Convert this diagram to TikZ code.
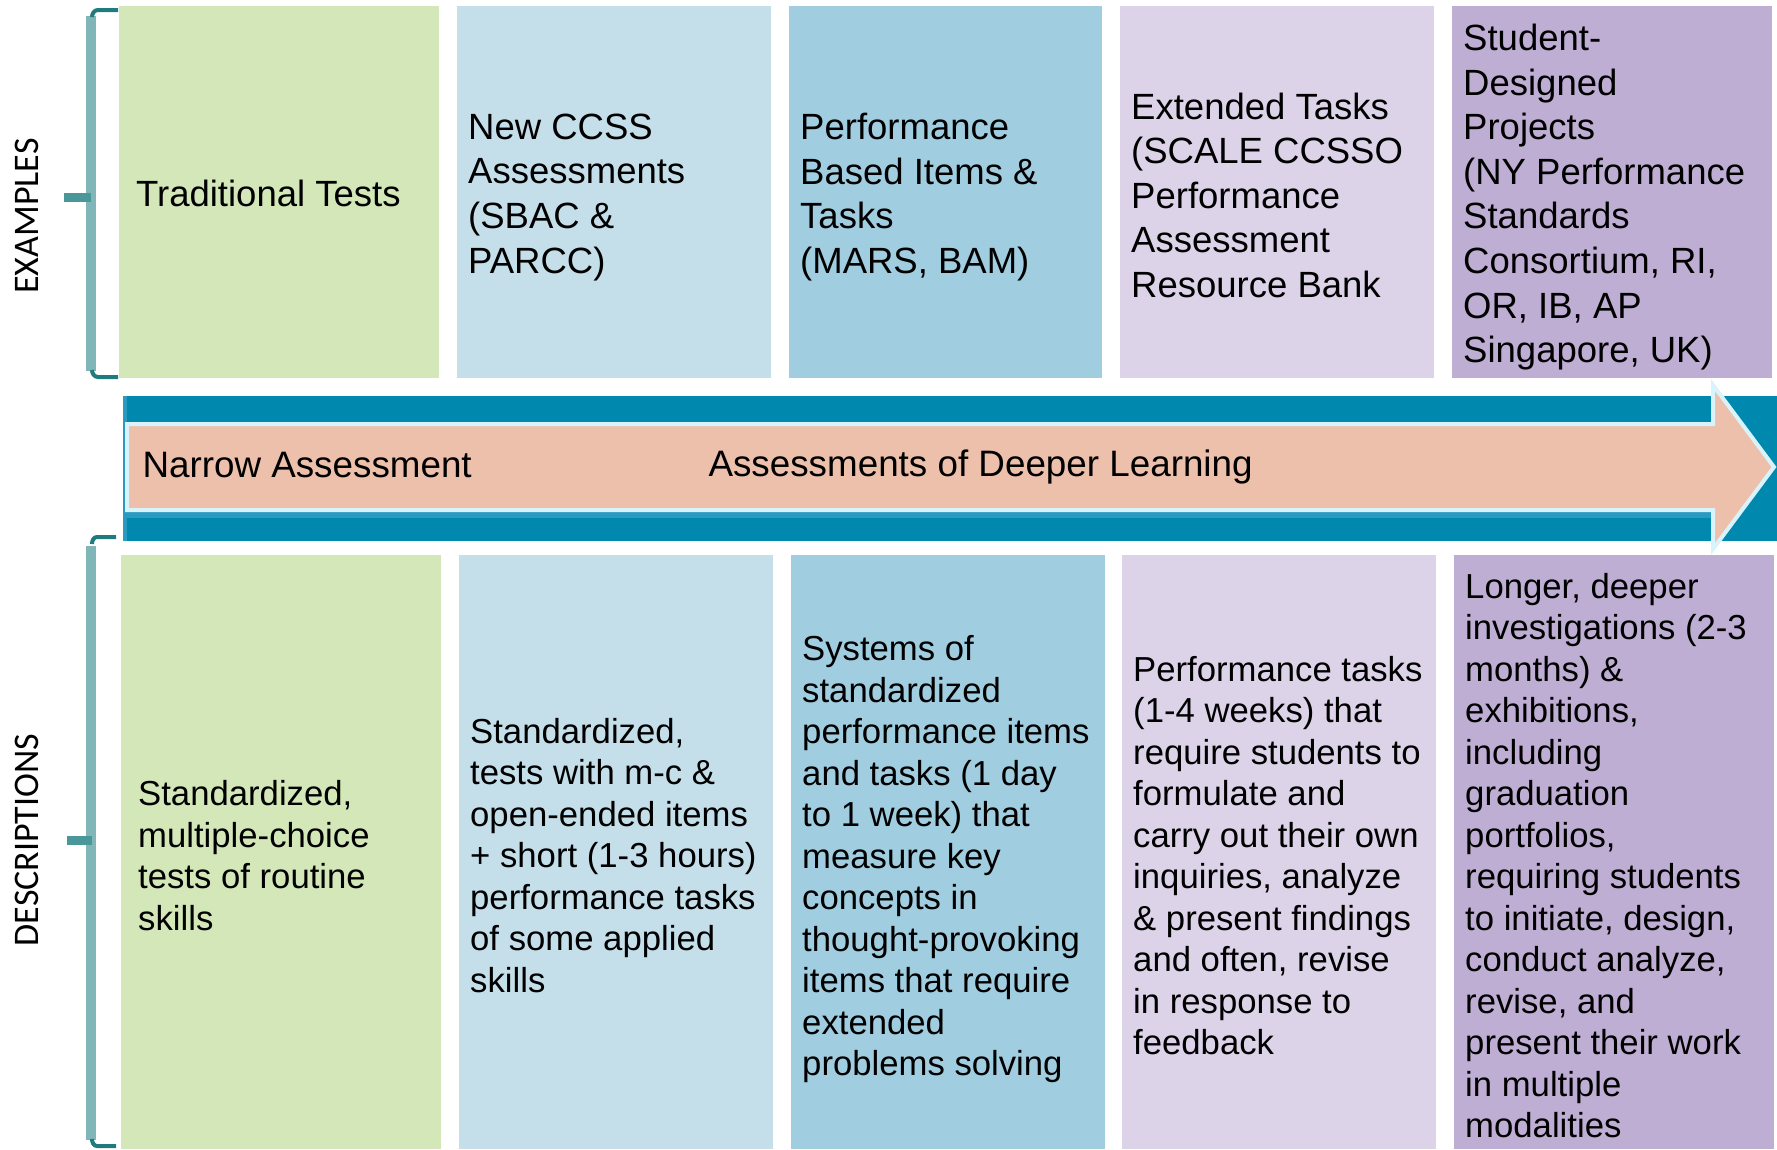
\documentclass[tikz,border=0pt]{standalone}
\usepackage{fontspec}
\setmainfont{Liberation Sans}
\newfontfamily\calib{Carlito}
\definecolor{cgreen}{HTML}{D3E7B8}
\definecolor{clblue}{HTML}{C4DFEA}
\definecolor{cmblue}{HTML}{A0CDE0}
\definecolor{cllav}{HTML}{DCD3E8}
\definecolor{cpurp}{HTML}{BFAED3}
\definecolor{cband}{HTML}{0088AF}
\definecolor{cbandlt}{HTML}{2A9BC0}
\definecolor{csalmon}{HTML}{EDC0AC}
\definecolor{cbrlt}{HTML}{80B6B8}
\definecolor{cbrdk}{HTML}{1F7B7C}
\definecolor{cbrmd}{HTML}{4A9799}
\tikzset{
  box/.style={anchor=north west, inner sep=0pt, minimum width=#1},
  topbox/.style={box=#1, minimum height=372pt},
  botbox/.style={box=#1, minimum height=594pt},
  toptext/.style={anchor=west, inner sep=0pt, align=left,
    font=\fontsize{36.5}{44.6}\selectfont},
  bottext/.style={anchor=west, inner sep=0pt, align=left,
    font=\fontsize{34.7}{41.5}\selectfont},
  sidelabel/.style={rotate=90, font=\calib\fontsize{36}{40}\selectfont},
  arrowlabel/.style={anchor=west, font=\fontsize{36.8}{44}\selectfont},
  brline/.style={draw=cbrlt, line width=10pt},
  brhook/.style={draw=cbrdk, line width=4pt},
  brtick/.style={draw=cbrmd, line width=9pt},
}
\begin{document}
\begin{tikzpicture}[x=1pt,y=-1pt]
\useasboundingbox (0,0) rectangle (1777,1149);
% top boxes
\node[topbox=320pt, fill=cgreen] (t1) at (119,6) {};
\node[topbox=314pt, fill=clblue] (t2) at (457,6) {};
\node[topbox=313pt, fill=cmblue] (t3) at (789,6) {};
\node[topbox=314pt, fill=cllav] (t4) at (1120,6) {};
\node[topbox=320pt, fill=cpurp] (t5) at (1452,6) {};
\node[toptext] (tt1) at ([xshift=17pt,yshift=-1pt]t1.west) {Traditional Tests};
\node[toptext] (tt2) at ([xshift=11pt,yshift=-5pt]t2.west) {New CCSS\\Assessments\\(SBAC \&\\PARCC)};
\node[toptext] (tt3) at ([xshift=11pt,yshift=-5pt]t3.west) {Performance\\Based Items \&\\Tasks\\(MARS, BAM)};
\node[toptext] (tt4) at ([xshift=11pt,yshift=-3pt]t4.west) {Extended Tasks\\(SCALE CCSSO\\Performance\\Assessment\\Resource Bank};
\node[toptext] (tt5) at ([xshift=11pt,yshift=-5pt]t5.west) {Student-\\Designed\\Projects\\(NY Performance\\Standards\\Consortium, RI,\\OR, IB, AP\\Singapore, UK)};
% band and arrow
\fill[cband] (123,396) rectangle (1777,541);
\fill[cbandlt] (123,396) rectangle (127,541);
\fill[cbandlt] (127,510) rectangle (1713,518);
\draw[draw=white!85!cyan, line width=4pt, fill=csalmon, line join=miter]
  (127,424) -- (1713,424) -- (1713,385) -- (1774,467) -- (1713,549) -- (1713,510) -- (127,510) -- cycle;
\node[arrowlabel] (na) at (139,465) {Narrow Assessment};
\node[arrowlabel] (dl) at (705,467) {Assessments of Deeper Learning};
% bottom boxes
\node[botbox=320pt, fill=cgreen] (b1) at (121,555) {};
\node[botbox=314pt, fill=clblue] (b2) at (459,555) {};
\node[botbox=314pt, fill=cmblue] (b3) at (791,555) {};
\node[botbox=314pt, fill=cllav] (b4) at (1122,555) {};
\node[botbox=320pt, fill=cpurp] (b5) at (1454,555) {};
\node[bottext] (bt1) at ([xshift=17pt,yshift=-3.5pt]b1.west) {Standardized,\\multiple-choice\\tests of routine\\skills};
\node[bottext] (bt2) at ([xshift=11pt,yshift=-3pt]b2.west) {Standardized,\\tests with m-c \&\\open-ended items\\+ short (1-3 hours)\\performance tasks\\of some applied\\skills};
\node[bottext] (bt3) at ([xshift=11pt,yshift=-7pt]b3.west) {Systems of\\standardized\\performance items\\and tasks (1 day\\to 1 week) that\\measure key\\concepts in\\thought-provoking\\items that require\\extended\\problems solving};
\node[bottext] (bt4) at ([xshift=11pt,yshift=-3.5pt]b4.west) {Performance tasks\\(1-4 weeks) that\\require students to\\formulate and\\carry out their own\\inquiries, analyze\\\& present findings\\and often, revise\\in response to\\feedback};
\node[bottext] (bt5) at ([xshift=11pt,yshift=-3.5pt]b5.west) {Longer, deeper\\investigations (2-3\\months) \&\\exhibitions,\\including\\graduation\\portfolios,\\requiring students\\to initiate, design,\\conduct analyze,\\revise, and\\present their work\\in multiple\\modalities};
% braces
\draw[brline] (91,16) -- (91,371);
\draw[brhook] (118,10) -- (98,10) to[out=180,in=90] (92,17);
\draw[brhook] (118,377) -- (98,377) to[out=180,in=-90] (92,370);
\draw[brtick] (64,197) -- (91,197);
\draw[brline] (91,546) -- (91,1140);
\draw[brhook] (116,537) -- (97,537) to[out=180,in=90] (92,544);
\draw[brhook] (116,1146) -- (97,1146) to[out=180,in=-90] (92,1139);
\draw[brtick] (67,840) -- (92,840);
\node[sidelabel] (ex) at (27,216) {EXAMPLES};
\node[sidelabel] (de) at (27,840) {DESCRIPTIONS};
\end{tikzpicture}
\end{document}
